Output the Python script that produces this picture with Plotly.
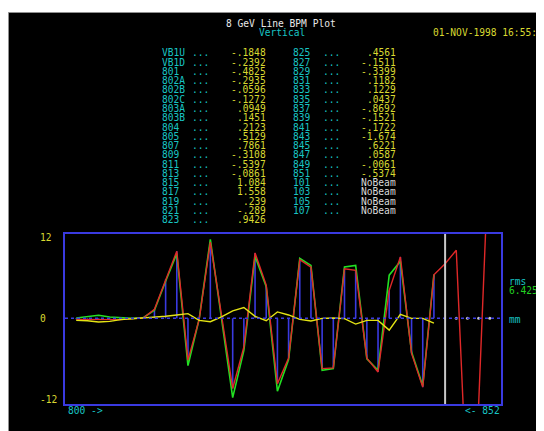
import plotly.graph_objects as go

# ---------------- data ----------------
names_left = ["VB1U", "VB1D", "801", "802A", "802B", "802C", "803A", "803B", "804",
              "805", "807", "809", "811", "813", "815", "817", "819", "821", "823"]
values_left = ["-.1848", "-.2392", "-.4825", "-.2935", "-.0596", "-.1272", ".0949",
               ".1451", ".2123", ".5129", ".7861", "-.3108", "-.5397", "-.0861",
               "1.084", "1.558", ".239", "-.289", ".9426"]
names_right = ["825", "827", "829", "831", "833", "835", "837", "839", "841", "843",
               "845", "847", "849", "851", "101", "103", "105", "107"]
values_right = [".4561", "-.1511", "-.3399", ".1182", ".1229", ".0437", "-.8692",
                "-.1521", "-.1722", "-1.674", ".6221", ".0587", "-.0061", "-.5374",
                "NoBeam", "NoBeam", "NoBeam", "NoBeam"]

# plotted orbit (mm) at BPM index positions VB1U..851 (0..32), gap (33), 101..107 (34..37)
red_orbit = [-0.15, -0.15, -0.1, -0.15, -0.2, -0.05, 0.05, 1.35, 5.8, 9.95, -6.2, -0.2,
             11.3, 0.3, -10.4, -4.25, 9.7, 4.9, -9.7, -5.9, 8.7, 7.6, -7.45, -7.35,
             7.35, 7.1, -5.9, -7.95, 4.15, 9.1, -5.2, -10.2, 6.45,
             8.1, 10.1, -27.4, -12.8, 28.4]
green_orbit = [0.05, 0.3, 0.45, 0.2, 0.05, 0.0, 0.1, 1.2, 5.5, 9.6, -7.0, -0.1,
               11.7, 0.3, -11.75, -4.75, 9.2, 4.7, -10.8, -6.1, 8.9, 7.85, -7.7, -7.45,
               7.6, 7.85, -6.0, -7.7, 6.4, 8.45, -5.0, -10.0, 6.5]
yellow_diff = [-0.3, -0.35, -0.55, -0.45, -0.2, -0.1, 0.0, 0.1, 0.3, 0.5, 0.7, -0.3,
               -0.5, 0.2, 1.1, 1.6, 0.3, -0.35, 0.95, 0.5, -0.15, -0.4, 0.0, 0.05,
               -0.05, -0.85, -0.3, -0.3, -1.75, 0.6, 0.0, 0.0, -0.7]
gap_index = 33
nobeam_index = [34, 35, 36, 37]
y_ticks = ["12", "0", "-12"]
y_tick_vals = [12, 0, -12]
rms_value = "6.425"

# The page body has an 8px margin, so the figure starts at (8, 8) in the window.
OFF = 8
W, H = 544 - OFF, 431 - OFF
def px(x):
    return (x - OFF) / W
def py(y):
    return 1 - (y - OFF) / H

CYAN = "#18c4c4"
YEL = "#d8d830"
FONT = "DejaVu Sans Mono"
FS = 9.6
BLUE = "#3a3ae0"

fig = go.Figure()

n = len(green_orbit)
xs = list(range(n))

# blue stems
sx, sy = [], []
for k in xs:
    sx += [k, k, None]
    sy += [0, red_orbit[k], None]
fig.add_trace(go.Scatter(x=sx, y=sy, mode="lines", line=dict(color=BLUE, width=1.6),
                         hoverinfo="skip"))
fig.add_trace(go.Scatter(x=xs, y=green_orbit, mode="lines",
                         line=dict(color="#22e022", width=1.6)))
fig.add_trace(go.Scatter(x=list(range(len(red_orbit))), y=red_orbit, mode="lines",
                         line=dict(color="#e02828", width=1.4)))
fig.add_trace(go.Scatter(x=xs, y=yellow_diff, mode="lines",
                         line=dict(color="#e4e414", width=1.4)))
fig.add_trace(go.Scatter(x=nobeam_index, y=[0] * len(nobeam_index), mode="markers",
                         marker=dict(color="#c8c8c8", size=3)))

shapes = [
    dict(type="rect", xref="paper", yref="paper", x0=px(8.5), x1=1.02, y0=-0.02,
         y1=py(12.5), fillcolor="black", line=dict(color="#909090", width=1),
         layer="below"),
    dict(type="line", xref="paper", yref="y", x0=px(65), x1=px(501), y0=0, y1=0,
         line=dict(color=BLUE, width=1.5, dash="3px,3px")),
    dict(type="line", xref="x", yref="paper", x0=gap_index, x1=gap_index,
         y0=py(404), y1=py(234), line=dict(color="#c8c8c8", width=2)),
]

ann = []
def txt(s, x, y, color, anchor="left", size=FS):
    ann.append(dict(text=s, x=px(x), y=py(y), xref="paper", yref="paper",
                    xanchor=anchor, yanchor="middle", showarrow=False,
                    font=dict(family=FONT, size=size, color=color)))

txt("8 GeV Line BPM Plot", 281, 23, "#e8e8e8", "center")
txt("Vertical", 282, 32.5, CYAN, "center")
txt("01-NOV-1998 16:55:4", 431, 32.5, YEL)

row0, dy = 52.8, 9.28
for i, (nm, v) in enumerate(zip(names_left, values_left)):
    y = row0 + dy * i
    txt(nm, 160, y, CYAN)
    txt("...", 190, y, CYAN)
    txt(v, 267.5, y, YEL, "right")
for i, (nm, v) in enumerate(zip(names_right, values_right)):
    y = row0 + dy * i
    txt(nm, 290.5, y, CYAN)
    txt("...", 321, y, CYAN)
    txt(v, 397.5, y, "#d8d8d8" if v == "NoBeam" else YEL, "right")

# axis value labels
for lab, v in zip(y_ticks, y_tick_vals):
    ann.append(dict(text=lab, x=px(38), y=v, xref="paper", yref="y", xanchor="left",
                    yanchor="middle", showarrow=False,
                    font=dict(family=FONT, size=FS, color=YEL)))
txt("800 ->", 65.5, 410.7, CYAN)
txt("<- 852", 501.5, 410.7, CYAN, "right")
txt("rms", 506.5, 281.7, CYAN)
txt(rms_value, 506.5, 290.7, "#22d022")
txt("mm", 506.5, 319.3, CYAN)

fig.update_layout(
    width=W, height=H, margin=dict(l=0, r=0, t=0, b=0),
    paper_bgcolor="white", plot_bgcolor="rgba(0,0,0,0)",
    showlegend=False, shapes=shapes, annotations=ann,
    xaxis=dict(domain=[px(65), px(501)], range=[-1, 38], showgrid=False,
               zeroline=False, showticklabels=False, ticks="", showline=True,
               mirror=True, linecolor=BLUE, linewidth=2, fixedrange=True),
    yaxis=dict(domain=[py(404), py(234)], range=[-12.7, 12.5], showgrid=False,
               zeroline=False, showticklabels=False, ticks="", showline=True,
               mirror=True, linecolor=BLUE, linewidth=2, fixedrange=True),
)

fig.write_html("out.html", config={"displayModeBar": False})
